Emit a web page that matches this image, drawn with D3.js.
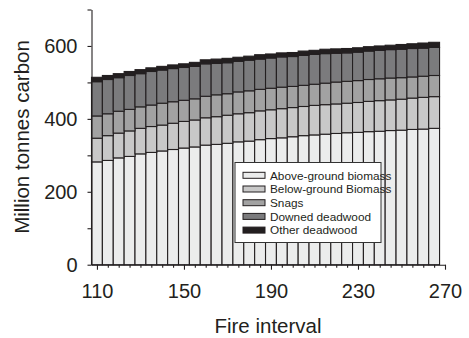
<!DOCTYPE html>
<html>
<head>
<meta charset="utf-8">
<script src="https://cdn.jsdelivr.net/npm/d3@7"></script>
<style>
  body { margin: 0; background: #fff; }
  svg { display: block; font-family: 'Liberation Sans', Arial, sans-serif; }
</style>
</head>
<body>
<svg id="chart" width="469" height="338"></svg>
<script>
const fireIntervals = [110, 115, 120, 125, 130, 135, 140, 145, 150, 155, 160, 165, 170, 175, 180, 185,
  190, 195, 200, 205, 210, 215, 220, 225, 230, 235, 240, 245, 250, 255, 260, 265];

const aboveGround = [282, 286, 293, 297, 304, 308, 312, 316, 320, 323, 328, 330, 333, 337, 339, 343,
  346, 348, 351, 354, 356, 358, 360, 362, 363, 365, 366, 368, 369, 371, 372, 374];
const belowGround = [65, 68, 68, 70, 70, 71, 71, 72, 73, 74, 75, 76, 77, 77, 78, 79,
  79, 80, 80, 80, 81, 81, 81, 81, 82, 83, 84, 84, 85, 86, 87, 87];
const snags = [61, 60, 60, 59, 59, 59, 60, 59, 58, 58, 59, 60, 59, 60, 60, 59,
  59, 59, 58, 58, 58, 59, 60, 60, 60, 60, 60, 60, 59, 58, 58, 58];
const downed = [94, 94, 92, 93, 91, 92, 91, 91, 90, 89, 89, 86, 85, 84, 84, 83,
  83, 83, 82, 82, 82, 81, 79, 78, 78, 78, 78, 78, 78, 78, 77, 77];
const otherDeadwood = [12, 11, 11, 11, 11, 10, 10, 10, 10, 11, 11, 12, 12, 11, 11, 12,
  11, 11, 11, 12, 11, 12, 12, 12, 12, 12, 12, 12, 13, 13, 14, 14];

const seriesNames = ['Above-ground biomass', 'Below-ground Biomass', 'Snags', 'Downed deadwood', 'Other deadwood'];
const seriesColors = ['#ebecec', '#c8c8c8', '#a2a2a2', '#7b7b7d', '#231f20'];
const yTicks = [0, 100, 200, 300, 400, 500, 600, 700];
const yLabels = [0, 200, 400, 600];
const xLabels = [110, 150, 190, 230, 270];

const INK = '#231f20';
const svg = d3.select('#chart');

const seriesValues = [aboveGround, belowGround, snags, downed, otherDeadwood];
const rows = fireIntervals.map((f, i) => {
  const row = { fire: f };
  seriesNames.forEach((name, s) => { row[name] = seriesValues[s][i]; });
  return row;
});
const stacked = d3.stack().keys(seriesNames)(rows);

const xScale = d3.scaleLinear().domain([107.5, 270]).range([91.5, 445]);
const yScale = d3.scaleLinear().domain([0, 700]).range([264.7, 9.5]);
const halfStep = 2.5;

/* bars */
svg.append('g')
  .selectAll('g')
  .data(stacked)
  .enter()
  .append('g')
  .attr('fill', (d, i) => seriesColors[i])
  .selectAll('rect')
  .data(d => d)
  .enter()
  .append('rect')
  .attr('x', d => xScale(d.data.fire - halfStep))
  .attr('width', d => xScale(d.data.fire + halfStep) - xScale(d.data.fire - halfStep))
  .attr('y', d => yScale(d[1]))
  .attr('height', d => yScale(d[0]) - yScale(d[1]))
  .attr('stroke', INK)
  .attr('stroke-width', 1.1);

/* left axis */
const leftAxis = d3.axisLeft(yScale)
  .tickValues(yTicks)
  .tickSize(4)
  .tickSizeOuter(0)
  .tickPadding(10)
  .tickFormat(d => (yLabels.includes(d) ? d : ''));
const gy = svg.append('g')
  .attr('transform', 'translate(91.5,0)')
  .call(leftAxis);
gy.selectAll('text')
  .attr('font-size', 20)
  .attr('font-family', "'Liberation Sans', Arial, sans-serif")
  .attr('fill', INK);

/* bottom axis */
const xTicks = d3.range(110, 271, 5);
const bottomAxis = d3.axisBottom(xScale)
  .tickValues(xTicks)
  .tickSize(3)
  .tickSizeOuter(0)
  .tickPadding(16)
  .tickFormat(d => (xLabels.includes(d) ? d : ''));
const gx = svg.append('g')
  .attr('transform', 'translate(0,264.7)')
  .call(bottomAxis);
gx.selectAll('.tick')
  .filter(d => xLabels.includes(d))
  .select('line')
  .attr('y2', 5);
gx.selectAll('text')
  .attr('font-size', 20)
  .attr('font-family', "'Liberation Sans', Arial, sans-serif")
  .attr('fill', INK);

svg.selectAll('.domain, .tick line')
  .attr('stroke', INK)
  .attr('stroke-width', 1.1);

/* titles */
svg.append('text')
  .attr('x', 268)
  .attr('y', 333)
  .attr('text-anchor', 'middle')
  .attr('font-size', 20.5)
  .attr('fill', INK)
  .text('Fire interval');

svg.append('text')
  .attr('transform', 'translate(29,137) rotate(-90)')
  .attr('text-anchor', 'middle')
  .attr('font-size', 20.5)
  .attr('fill', INK)
  .text('Million tonnes carbon');

/* legend */
const legend = svg.append('g').attr('transform', 'translate(235,162.5)');
legend.append('rect')
  .attr('width', 146)
  .attr('height', 80)
  .attr('fill', '#fff')
  .attr('stroke', '#333')
  .attr('stroke-width', 1);
const items = legend.selectAll('.item')
  .data(seriesNames)
  .enter()
  .append('g')
  .attr('class', 'item')
  .attr('transform', (d, i) => `translate(8,${12.8 + i * 13.7})`);
items.append('rect')
  .attr('y', -3)
  .attr('width', 22)
  .attr('height', 6)
  .attr('fill', (d, i) => seriesColors[i])
  .attr('stroke', INK)
  .attr('stroke-width', 1);
items.append('text')
  .attr('x', 27)
  .attr('y', 4.2)
  .attr('font-size', 11.8)
  .attr('fill', INK)
  .text(d => d);
</script>
</body>
</html>
